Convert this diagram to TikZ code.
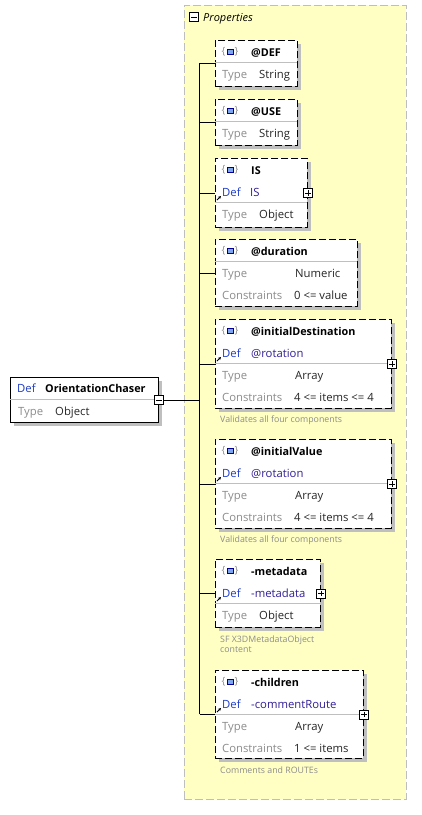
\documentclass[tikz,border=0pt]{standalone}
\usepackage{fontspec}
\setmainfont{Open Sans}
\usetikzlibrary{positioning, shadows, arrows.meta}

\definecolor{propyellow}{RGB}{255,255,196}
\definecolor{propborder}{RGB}{190,190,190}
\definecolor{labelgray}{RGB}{140,140,140}
\definecolor{defblue}{RGB}{30,60,200}
\definecolor{refblue}{RGB}{50,30,150}
\definecolor{notegray}{RGB}{140,140,140}
\definecolor{iconblue}{RGB}{70,130,230}

\newcommand{\refmark}[1]{\draw[refarr] (217,#1) -- ++(4,-4);}

\begin{document}
\begin{tikzpicture}[
    x = 1pt, y = -1pt,
    every node/.style = {inner sep=0pt, font=\fontsize{11.3}{13}\selectfont},
    box/.style = {draw, line width=0.8pt, fill=white, anchor=north west,
        drop shadow={shadow xshift=4pt, shadow yshift=-4pt, fill=black!25, opacity=1}},
    attr/.style = {box, dash pattern=on 7pt off 3pt},
    title/.style = {anchor=base west, font=\fontsize{10.8}{13}\selectfont\bfseries},
    lbl/.style = {anchor=base west, text=labelgray},
    val/.style = {anchor=base west, text=black!85},
    defl/.style = {anchor=base west, text=defblue},
    defv/.style = {anchor=base west, text=refblue},
    note/.style = {anchor=base west, text=notegray, font=\fontsize{8.8}{10}\selectfont},
    sep/.style = {draw=black!25, line width=0.6pt},
    conn/.style = {line width=0.8pt},
    refarr/.style = {-{Stealth[length=3pt, width=3pt]}, line width=0.9pt},
    icon/.style = {draw=blue!60!black, fill=iconblue!70, line width=0.5pt,
        minimum width=5.5pt, minimum height=5pt,
        label={[text=black!45, font=\fontsize{10}{10}\selectfont, label distance=1.5pt]left:\{},
        label={[text=black!45, font=\fontsize{10}{10}\selectfont, label distance=1.5pt]right:\}}},
    expand/.style = {draw, fill=white, minimum size=9pt, line width=0.6pt,
        path picture={\draw[line width=0.6pt]
            ([xshift=1.8pt]path picture bounding box.west) -- ([xshift=-1.8pt]path picture bounding box.east)
            ([yshift=-1.8pt]path picture bounding box.north) -- ([yshift=1.8pt]path picture bounding box.south);}},
    collapse/.style = {draw, fill=white, minimum size=9pt, line width=0.6pt,
        path picture={\draw[line width=0.6pt]
            ([xshift=1.8pt]path picture bounding box.west) -- ([xshift=-1.8pt]path picture bounding box.east);}}
]
\useasboundingbox (0,0) rectangle (421,815);

% Properties group
\node[draw=propborder, dash pattern=on 8pt off 3pt, line width=0.8pt, fill=propyellow,
    anchor=north west, minimum width=222pt, minimum height=794pt] (props) at (184,5) {};
\node[collapse] (propsx) at (194,17) {};
\node[anchor=base west, font=\fontsize{11}{13}\selectfont\itshape] (propst) at (203,21) {Properties};

% Root element
\node[box, minimum width=148pt, minimum height=45pt] (chaser) at (10,377) {};
\draw[sep] (10,399.5) -- (158,399.5);
\node[defl] (chaser-d) at (17,392.5) {Def};
\node[title] (chaser-n) at (45,392.5) {OrientationChaser};
\node[lbl] (chaser-t) at (18,415) {Type};
\node[val] (chaser-v) at (55,415) {Object};
\node[collapse] (chaserx) at (chaser.east) {};

% @DEF
\node[attr, minimum width=82pt, minimum height=46pt] (def) at (215,40) {};
\node[icon] (def-i) at (230,52) {};
\node[title] (def-n) at (251,56.5) {@DEF};
\draw[sep] (215,62) -- (297,62);
\node[lbl] (def-t) at (222,78.5) {Type};
\node[val] (def-v) at (259,78.5) {String};

% @USE
\node[attr, minimum width=82pt, minimum height=46pt] (use) at (215,99) {};
\node[icon] (use-i) at (230,111) {};
\node[title] (use-n) at (251,115.5) {@USE};
\draw[sep] (215,121) -- (297,121);
\node[lbl] (use-t) at (222,137.5) {Type};
\node[val] (use-v) at (259,137.5) {String};

% IS
\node[attr, minimum width=92pt, minimum height=69pt] (is) at (215,158) {};
\node[icon] (is-i) at (230,170) {};
\node[title] (is-n) at (251,174.5) {IS};
\node[defl] (is-d) at (222,196.5) {Def};
\node[defv] (is-r) at (250,196.5) {IS};
\draw[sep] (215,202) -- (307,202);
\node[lbl] (is-t) at (222,218.5) {Type};
\node[val] (is-v) at (259,218.5) {Object};
\refmark{200}
\node[expand] (isx) at (is.east) {};

% @duration
\node[attr, minimum width=142pt, minimum height=67pt] (duration) at (215,239) {};
\node[icon] (duration-i) at (230,251) {};
\node[title] (duration-n) at (251,255.5) {@duration};
\draw[sep] (215,261) -- (357,261);
\node[lbl] (duration-t) at (222,277.5) {Type};
\node[val] (duration-v) at (295,277.5) {Numeric};
\node[lbl] (duration-c) at (222,299.5) {Constraints};
\node[val] (duration-w) at (294,299.5) {0 <= value};

% @initialDestination
\node[attr, minimum width=176pt, minimum height=89pt] (initdest) at (215,319) {};
\node[icon] (initdest-i) at (230,331) {};
\node[title] (initdest-n) at (251,335.5) {@initialDestination};
\node[defl] (initdest-d) at (222,357.5) {Def};
\node[defv] (initdest-r) at (251,357.5) {@rotation};
\draw[sep] (215,363) -- (391,363);
\node[lbl] (initdest-t) at (222,379.5) {Type};
\node[val] (initdest-v) at (295,379.5) {Array};
\node[lbl] (initdest-c) at (222,401.5) {Constraints};
\node[val] (initdest-w) at (294,401.5) {4 <= items <= 4};
\refmark{361}
\node[expand] (initdestx) at (initdest.east) {};
\node[note] (initdest-note) at (220,422) {Validates all four components};

% @initialValue
\node[attr, minimum width=176pt, minimum height=89pt] (initval) at (215,439) {};
\node[icon] (initval-i) at (230,451) {};
\node[title] (initval-n) at (251,455.5) {@initialValue};
\node[defl] (initval-d) at (222,477.5) {Def};
\node[defv] (initval-r) at (251,477.5) {@rotation};
\draw[sep] (215,483) -- (391,483);
\node[lbl] (initval-t) at (222,499.5) {Type};
\node[val] (initval-v) at (295,499.5) {Array};
\node[lbl] (initval-c) at (222,521.5) {Constraints};
\node[val] (initval-w) at (294,521.5) {4 <= items <= 4};
\refmark{481}
\node[expand] (initvalx) at (initval.east) {};
\node[note] (initval-note) at (220,542.5) {Validates all four components};

% -metadata
\node[attr, minimum width=105pt, minimum height=68pt] (metadata) at (215,559) {};
\node[icon] (metadata-i) at (230,571) {};
\node[title] (metadata-n) at (251,575.5) {-metadata};
\node[defl] (metadata-d) at (222,597.5) {Def};
\node[defv] (metadata-r) at (251,597.5) {-metadata};
\draw[sep] (215,603) -- (320,603);
\node[lbl] (metadata-t) at (222,619.5) {Type};
\node[val] (metadata-v) at (259,619.5) {Object};
\refmark{601}
\node[expand] (metadatax) at (metadata.east) {};
\node[note] (metadata-note) at (220,642) {SF X3DMetadataObject};
\node[note] (metadata-note2) at (220,652.5) {content};

% -children
\node[attr, minimum width=148pt, minimum height=88pt] (children) at (215,670) {};
\node[icon] (children-i) at (230,682) {};
\node[title] (children-n) at (251,686.5) {-children};
\node[defl] (children-d) at (222,708.5) {Def};
\node[defv] (children-r) at (251,708.5) {-commentRoute};
\draw[sep] (215,714) -- (363,714);
\node[lbl] (children-t) at (222,730.5) {Type};
\node[val] (children-v) at (295,730.5) {Array};
\node[lbl] (children-c) at (222,752.5) {Constraints};
\node[val] (children-w) at (294,752.5) {1 <= items};
\refmark{712}
\node[expand] (childrenx) at (children.east) {};
\node[note] (children-note) at (220,773) {Comments and ROUTEs};

% Connectors
\coordinate (trunk) at (199.5,399.5);
\draw[conn] (chaserx.east) -- (chaserx.east -| trunk);
\draw[conn] (def.west -| trunk) -- (children.west -| trunk);
\foreach \n in {def, use, is, duration, initdest, initval, metadata, children}
    \draw[conn] (\n.west -| trunk) -- (\n.west);

\end{tikzpicture}
\end{document}
